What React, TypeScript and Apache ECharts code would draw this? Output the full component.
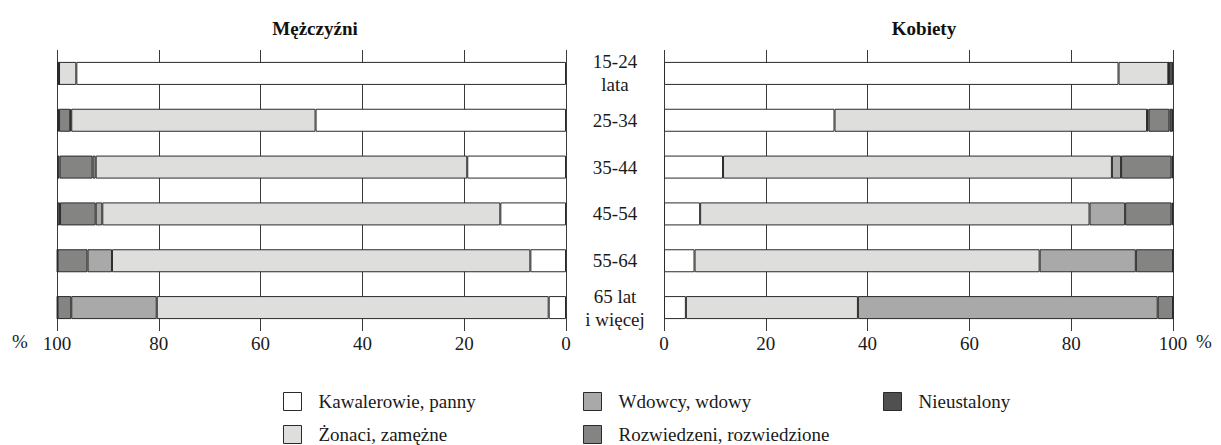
import React, { useEffect, useRef } from "react";
import * as echarts from "echarts";

const categories = ["15-24\nlata", "25-34", "35-44", "45-54", "55-64", "65 lat\ni więcej"];
const seriesNames = [
  "Kawalerowie, panny",
  "Żonaci, zamężne",
  "Wdowcy, wdowy",
  "Rozwiedzeni, rozwiedzione",
  "Nieustalony",
];
const colors = ["#ffffff", "#dededc", "#a9a9a9", "#848482", "#505050"];

// Mężczyźni (men)
const menKawalerowie = [96.2, 49.2, 19.4, 12.9, 7.0, 3.4];
const menZonaci = [3.4, 48.0, 73.0, 78.2, 82.2, 77.0];
const menWdowcy = [0.0, 0.2, 0.6, 1.3, 4.8, 16.8];
const menRozwiedzeni = [0.1, 2.2, 6.5, 7.0, 5.9, 2.7];
const menNieustalony = [0.3, 0.4, 0.5, 0.6, 0.1, 0.1];

// Kobiety (women)
const womenPanny = [89.3, 33.5, 11.6, 7.1, 6.0, 4.3];
const womenZamezne = [9.8, 61.4, 76.4, 76.5, 67.8, 33.8];
const womenWdowy = [0.0, 0.3, 1.8, 7.0, 18.9, 58.9];
const womenRozwiedzione = [0.1, 4.1, 9.9, 9.1, 7.3, 3.0];
const womenNieustalony = [0.8, 0.7, 0.3, 0.3, 0.0, 0.0];

const xTicks = { min: 0, max: 100, interval: 20 };

const FONT = "Liberation Serif";
const FS = 19;

export default function App() {
  const ref = useRef<HTMLDivElement>(null);
  useEffect(() => {
    document.body.style.margin = "0";
    const chart = echarts.init(ref.current!, null, { renderer: "svg" });
    const menData = [menKawalerowie, menZonaci, menWdowcy, menRozwiedzeni, menNieustalony];
    const womenData = [womenPanny, womenZamezne, womenWdowy, womenRozwiedzione, womenNieustalony];
    const mk = (data: number[][], idx: number, stack: string) =>
      data.map((d, i) => ({
        type: "bar",
        name: seriesNames[i],
        stack,
        xAxisIndex: idx,
        yAxisIndex: idx,
        data: d,
        barWidth: 23,
        itemStyle: { color: colors[i], borderColor: "#2a2a2a", borderWidth: 1 },
      }));
    const legendPos = [
      { left: 283, top: 392 },
      { left: 283, top: 425 },
      { left: 583, top: 392 },
      { left: 583, top: 425 },
      { left: 883, top: 392 },
    ];
    const xAxisCommon = {
      type: "value",
      ...xTicks,
      axisLine: { show: false },
      axisTick: { show: false },
      splitLine: { show: true, lineStyle: { color: "#3a3a3a", width: 1 } },
      axisLabel: { fontFamily: FONT, fontSize: FS, color: "#1a1a1a", margin: 3, showMinLabel: true, showMaxLabel: true },
    };
    chart.setOption({
      animation: false,
      backgroundColor: "#ffffff",
      textStyle: { fontFamily: FONT },
      title: [
        { text: "Mężczyźni", left: 310, top: 14, textAlign: "center", textStyle: { fontFamily: FONT, fontSize: FS, fontWeight: "bold", color: "#111" } },
        { text: "Kobiety", left: 919, top: 14, textAlign: "center", textStyle: { fontFamily: FONT, fontSize: FS, fontWeight: "bold", color: "#111" } },
      ],
      grid: [
        { left: 57, width: 509, top: 50, height: 281 },
        { left: 664, width: 509, top: 50, height: 281 },
      ],
      xAxis: [
        { ...xAxisCommon, gridIndex: 0, inverse: true },
        { ...xAxisCommon, gridIndex: 1 },
      ],
      yAxis: [
        {
          type: "category",
          gridIndex: 0,
          data: categories,
          inverse: true,
          position: "right",
          axisLine: { show: false },
          axisTick: { show: false },
          axisLabel: { align: "center", margin: 49, fontFamily: FONT, fontSize: FS, lineHeight: 23, color: "#1a1a1a" },
        },
        {
          type: "category",
          gridIndex: 1,
          data: categories,
          inverse: true,
          axisLine: { show: false },
          axisTick: { show: false },
          axisLabel: { show: false },
        },
      ],
      legend: seriesNames.map((n, i) => ({
        data: [n],
        left: legendPos[i].left,
        top: legendPos[i].top,
        icon: "rect",
        itemWidth: 18,
        itemHeight: 18,
        padding: 0,
        selectedMode: false,
        itemStyle: { borderColor: "#2a2a2a", borderWidth: 1 },
        textStyle: { fontFamily: FONT, fontSize: FS, color: "#1a1a1a", padding: [0, 0, 0, 12] },
      })),
      graphic: [
        { type: "text", left: 12, top: 332, style: { text: "%", fontFamily: FONT, fontSize: FS, fill: "#1a1a1a" } },
        { type: "text", left: 1196, top: 332, style: { text: "%", fontFamily: FONT, fontSize: FS, fill: "#1a1a1a" } },
      ],
      series: [...mk(menData, 0, "m"), ...mk(womenData, 1, "k")],
    });
    return () => chart.dispose();
  }, []);
  return <div ref={ref} style={{ width: 1221, height: 445 }} />;
}
